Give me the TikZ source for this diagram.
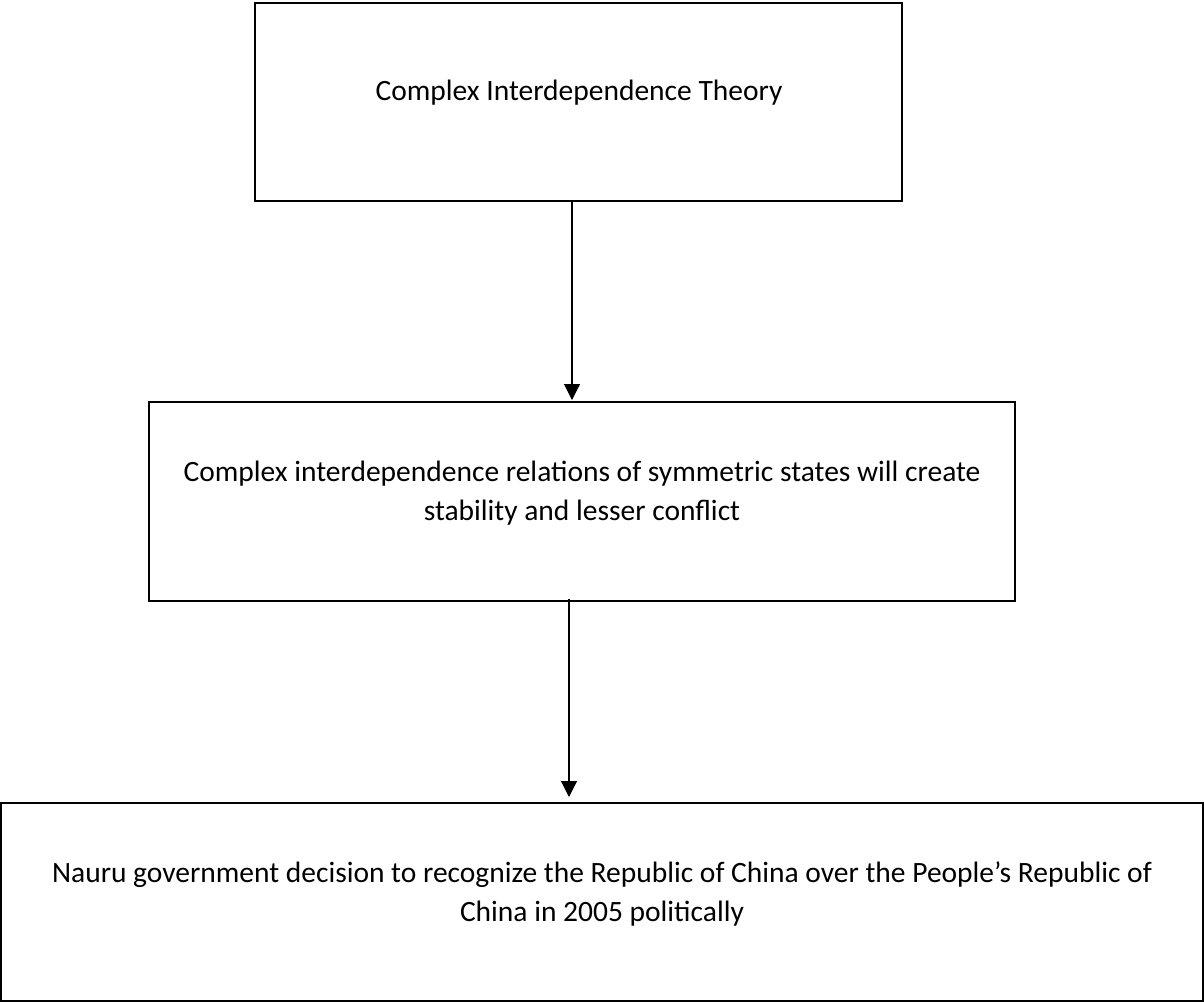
\documentclass[tikz,border=0pt]{standalone}
\usepackage{fontspec}
\setmainfont{Carlito}
\usetikzlibrary{arrows.meta}
\begin{document}
\begin{tikzpicture}[x=1pt,y=-1pt,
  box/.style={draw=black,line width=2pt,minimum width=#1,inner sep=0pt},
  txt/.style={font=\fontsize{29.5}{39}\selectfont,align=center,inner sep=0pt},
  arr/.style={draw=black,line width=1.1pt,-{Triangle[length=16pt,width=16pt]}}]
\useasboundingbox (0,0) rectangle (1204,1002);
\node[box=647pt,minimum height=198pt] (b1) at (578.5,102) {};
\node[box=866pt,minimum height=199pt] (b2) at (582,501.5) {};
\node[box=1202pt,minimum height=198pt] (b3) at (602,902) {};
\node[txt] (t1) at (579,93) {Complex Interdependence Theory};
\node[txt] (t2) at (582,493) {Complex interdependence relations of symmetric states will create\\stability and lesser conflict};
\node[txt] (t3) at (602,894) {Nauru government decision to recognize the Republic of China over the People’s Republic of\\China in 2005 politically};
\coordinate (c1) at (572,0);
\coordinate (c2) at (569,0);
\draw[arr] (b1.south -| c1) -- ([yshift=1pt]b2.north -| c1);
\draw[arr] ([yshift=3pt]b2.south -| c2) -- ([yshift=5pt]b3.north -| c2);
\end{tikzpicture}
\end{document}
